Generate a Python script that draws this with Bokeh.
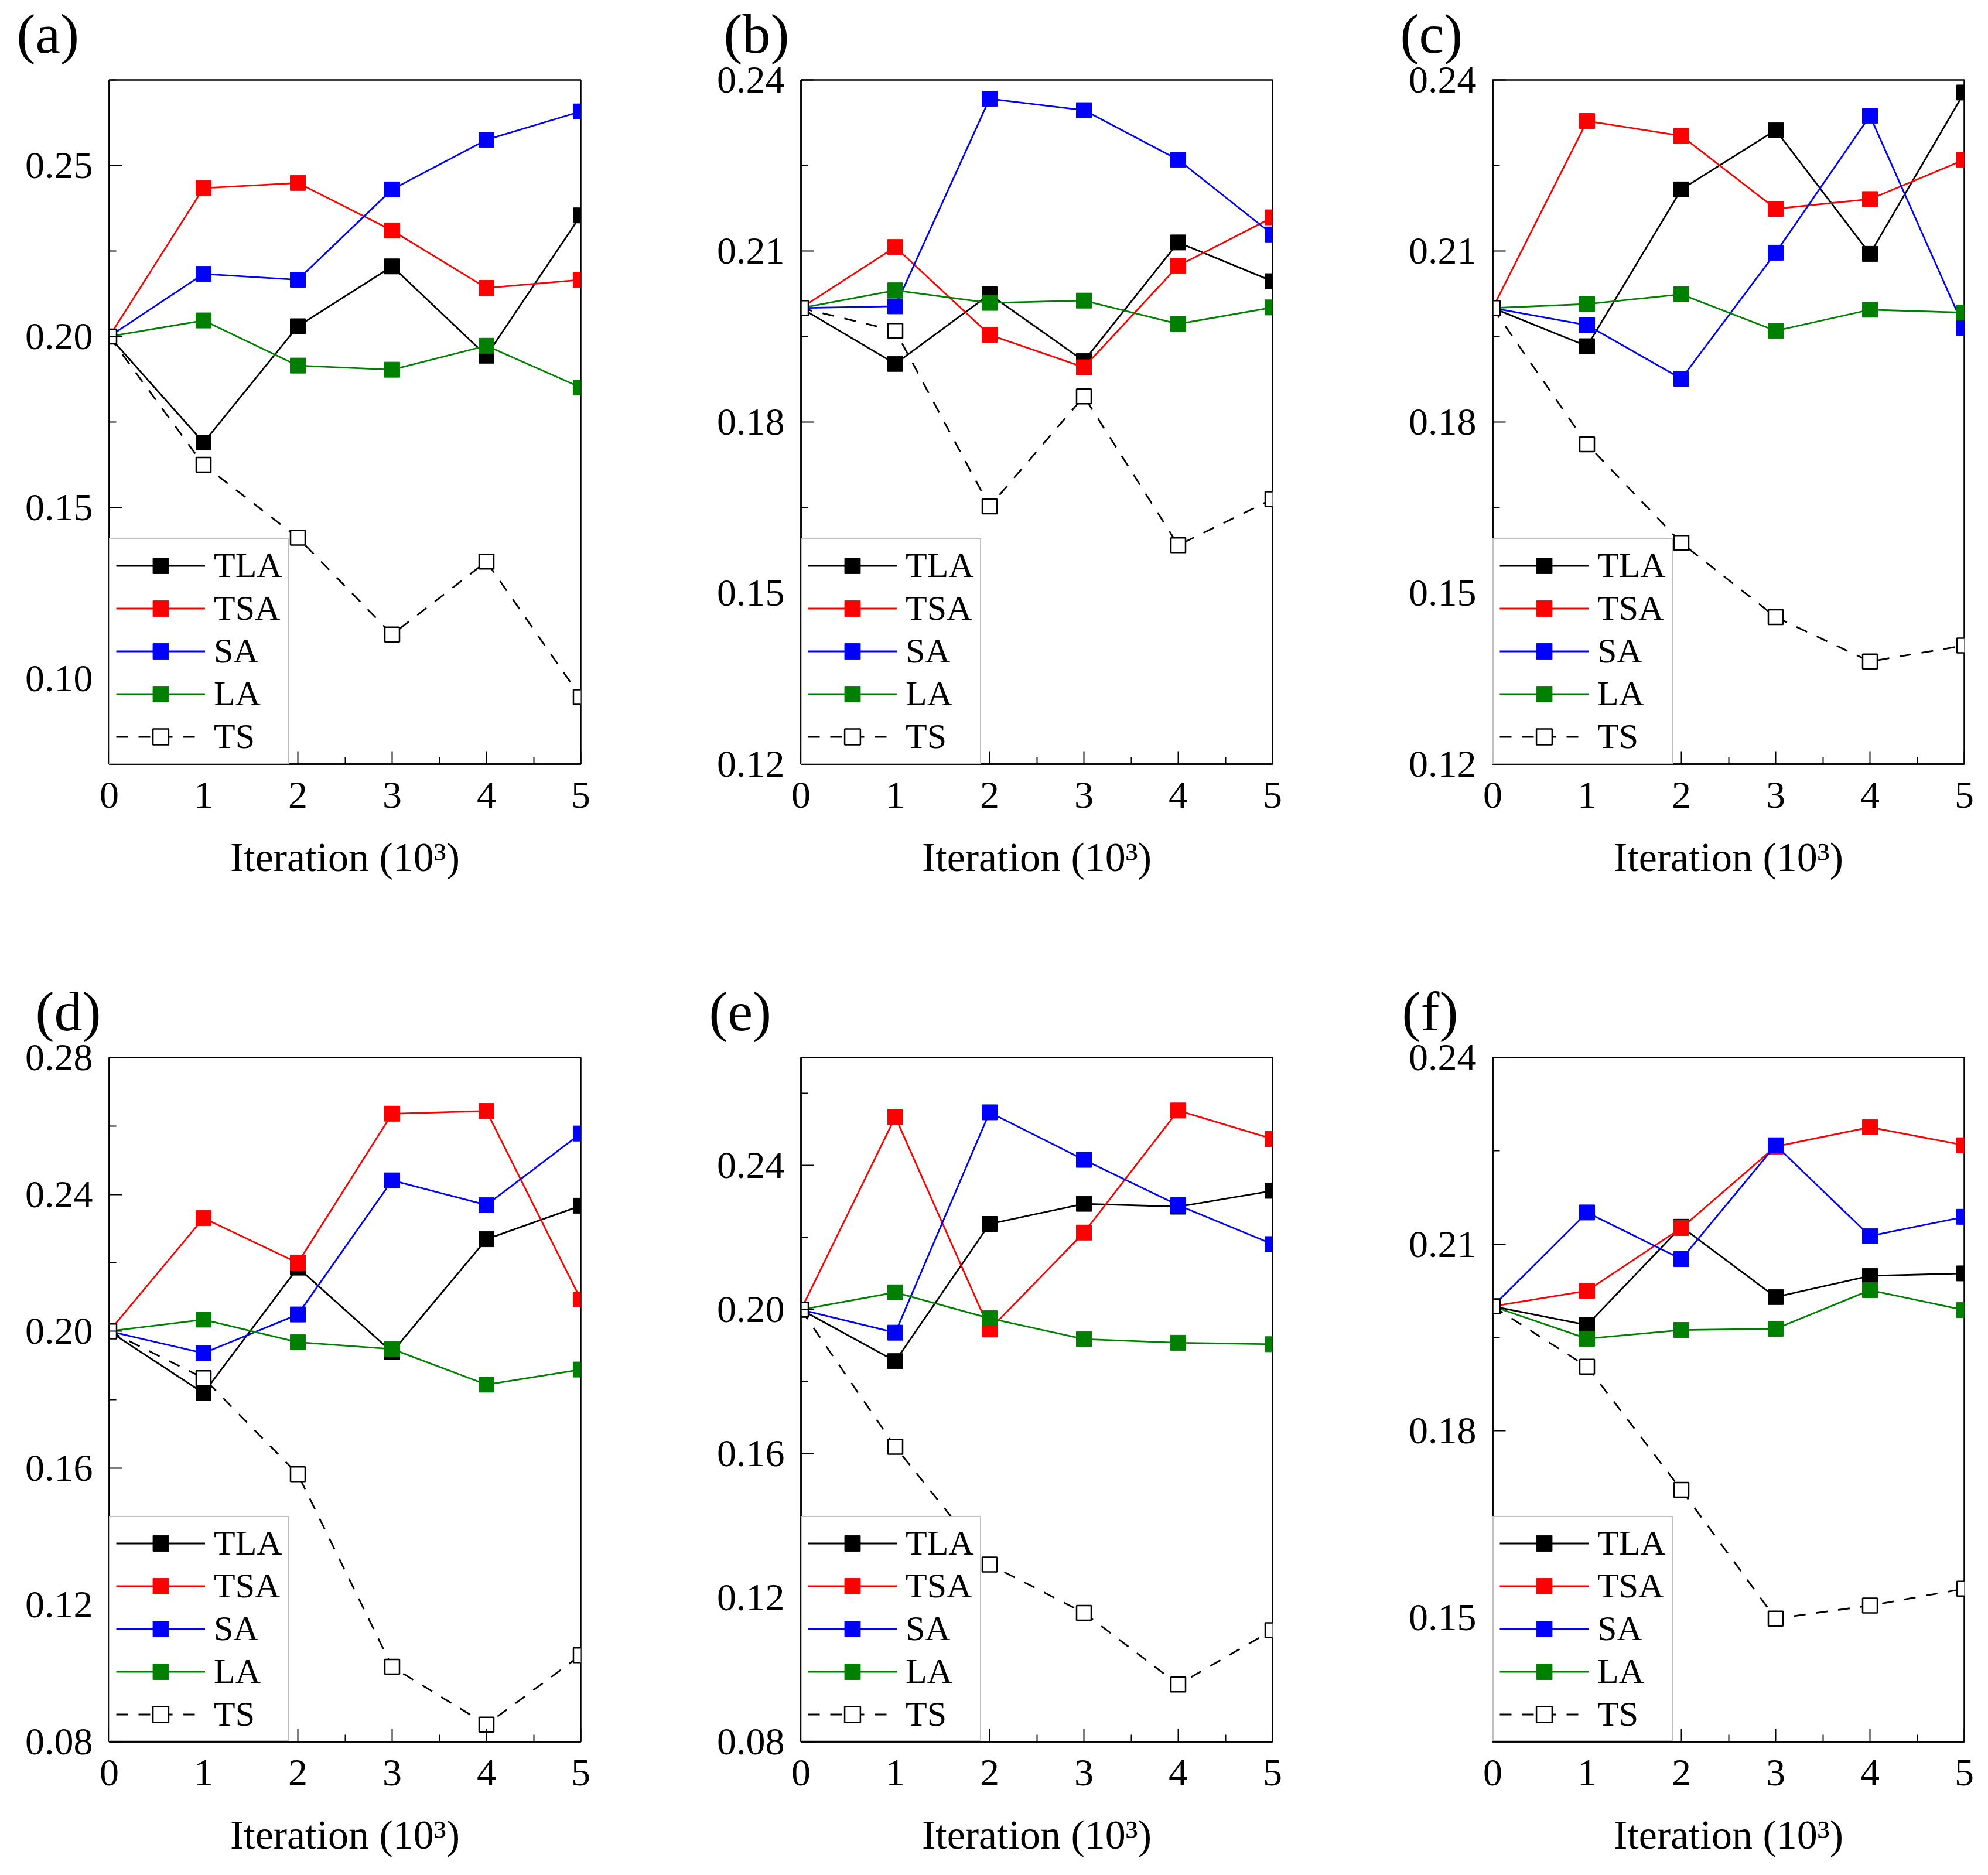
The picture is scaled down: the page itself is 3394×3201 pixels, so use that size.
from bokeh.plotting import figure
from bokeh.layouts import column, row
from bokeh.models import Range1d, FixedTicker, PrintfTickFormatter, Title
from bokeh.embed import file_html
from bokeh.resources import INLINE

iterations = [0, 1, 2, 3, 4, 5]
series_names = ["TLA", "TSA", "SA", "LA", "TS"]
x_ticks = [0, 1, 2, 3, 4, 5]
x_minor = [0.5, 1.5, 2.5, 3.5, 4.5]

# (a)
a_tla = [0.200, 0.169, 0.203, 0.2205, 0.1944, 0.2354]
a_tsa = [0.200, 0.2434, 0.2449, 0.231, 0.2142, 0.2166]
a_sa = [0.200, 0.2183, 0.2166, 0.243, 0.2575, 0.2658]
a_la = [0.200, 0.2047, 0.1915, 0.1903, 0.1973, 0.1851]
a_ts = [0.200, 0.1625, 0.1412, 0.1129, 0.1342, 0.0946]
a_yrange = [0.075, 0.275]
a_yticks = [0.10, 0.15, 0.20, 0.25]
a_yminor = [0.075, 0.125, 0.175, 0.225, 0.275]

# (b)
b_tla = [0.200, 0.1902, 0.2024, 0.1907, 0.2115, 0.2047]
b_tsa = [0.200, 0.2107, 0.1953, 0.1896, 0.2074, 0.2159]
b_sa = [0.200, 0.2003, 0.2367, 0.2347, 0.226, 0.2129]
b_la = [0.200, 0.2031, 0.2009, 0.2013, 0.1972, 0.2001]
b_ts = [0.200, 0.196, 0.1652, 0.1845, 0.1584, 0.1665]
b_yrange = [0.12, 0.24]
b_yticks = [0.12, 0.15, 0.18, 0.21, 0.24]
b_yminor = [0.135, 0.165, 0.195, 0.225]

# (c)
c_tla = [0.200, 0.1933, 0.2208, 0.2312, 0.2095, 0.2378]
c_tsa = [0.200, 0.2328, 0.2302, 0.2174, 0.2191, 0.226]
c_sa = [0.200, 0.197, 0.1876, 0.2097, 0.2337, 0.1965]
c_la = [0.200, 0.2007, 0.2024, 0.196, 0.1997, 0.1992]
c_ts = [0.200, 0.1761, 0.1588, 0.1458, 0.138, 0.1408]
c_yrange = [0.12, 0.24]
c_yticks = [0.12, 0.15, 0.18, 0.21, 0.24]
c_yminor = [0.135, 0.165, 0.195, 0.225]

# (d)
d_tla = [0.200, 0.1819, 0.2186, 0.1939, 0.2269, 0.2367]
d_tsa = [0.200, 0.2331, 0.2200, 0.2636, 0.2644, 0.2093]
d_sa = [0.200, 0.1936, 0.2049, 0.2441, 0.2369, 0.2578]
d_la = [0.200, 0.2034, 0.1968, 0.1948, 0.1844, 0.1888]
d_ts = [0.200, 0.1863, 0.1582, 0.1019, 0.0850, 0.1053]
d_yrange = [0.08, 0.28]
d_yticks = [0.08, 0.12, 0.16, 0.20, 0.24, 0.28]
d_yminor = [0.10, 0.14, 0.18, 0.22, 0.26]

# (e)
e_tla = [0.200, 0.1857, 0.2238, 0.2294, 0.2286, 0.2330]
e_tsa = [0.200, 0.2535, 0.1945, 0.2214, 0.2553, 0.2474]
e_sa = [0.200, 0.1936, 0.2548, 0.2416, 0.2290, 0.2182]
e_la = [0.200, 0.2048, 0.1976, 0.1918, 0.1908, 0.1904]
e_ts = [0.200, 0.1619, 0.1292, 0.1158, 0.0959, 0.1110]
e_yrange = [0.08, 0.27]
e_yticks = [0.08, 0.12, 0.16, 0.20, 0.24]
e_yminor = [0.10, 0.14, 0.18, 0.22, 0.26]

# (f)
f_tla = [0.200, 0.1970, 0.2128, 0.2015, 0.2049, 0.2053]
f_tsa = [0.200, 0.2025, 0.2126, 0.2257, 0.2288, 0.2259]
f_sa = [0.200, 0.2151, 0.2076, 0.2259, 0.2113, 0.2144]
f_la = [0.200, 0.1948, 0.1962, 0.1964, 0.2026, 0.1994]
f_ts = [0.200, 0.1903, 0.1705, 0.1498, 0.1519, 0.1546]
f_yrange = [0.13, 0.24]
f_yticks = [0.15, 0.18, 0.21, 0.24]
f_yminor = [0.135, 0.165, 0.195, 0.225]

panel_tags = ["(a)", "(b)", "(c)", "(d)", "(e)", "(f)"]
tag_offsets = [-158, -132, -158, -126, -157, -155]   # px left of the frame

colors = ["#000000", "#FF0000", "#0000FF", "#008000", "#000000"]
FONT = "Liberation Serif"
FRAME_W = 805
FRAME_H = 1168


def make_panel(idx, series, yrange, yticks, yminor):
    col = idx % 3
    rw = idx // 3
    border_left = 186 if col == 0 else 178
    border_right = 198 if col < 2 else 30
    width = border_left + FRAME_W + border_right
    border_top = 136
    border_bottom = 365 if rw == 0 else 226
    height = border_top + FRAME_H + border_bottom
    p = figure(width=width, height=height,
               x_range=Range1d(0, 5), y_range=Range1d(yrange[0], yrange[1]),
               output_backend="svg", toolbar_location=None,
               min_border_left=border_left, min_border_right=border_right,
               min_border_top=border_top, min_border_bottom=border_bottom)
    p.background_fill_color = "white"
    p.border_fill_color = "white"
    p.xgrid.visible = False
    p.ygrid.visible = False
    p.outline_line_color = "black"
    p.outline_line_width = 2.5
    p.outline_line_alpha = 1

    xa = p.below[0]
    ya = p.left[0]

    tag = Title(text=panel_tags[idx], align="left",
                offset=tag_offsets[idx], standoff=0,
                text_font=FONT, text_font_size="96px",
                text_font_style="normal", text_color="black")
    try:
        tag.padding = dict(left=0, right=0, top=0, bottom=26)
    except Exception:
        pass
    p.add_layout(tag, "above")

    for i, (name, ys) in enumerate(zip(series_names, series)):
        if name == "TS":
            p.line(iterations, ys, line_color=colors[i], line_width=2.8,
                   line_dash="20 18", legend_label=name)
            p.scatter(iterations, ys, marker="square", size=25,
                      fill_color="white", line_color=colors[i], line_width=2.5,
                      legend_label=name)
        else:
            p.line(iterations, ys, line_color=colors[i], line_width=2.8,
                   legend_label=name)
            p.scatter(iterations, ys, marker="square", size=26,
                      fill_color=colors[i], line_color=colors[i], line_width=1,
                      legend_label=name)

    xa.ticker = FixedTicker(ticks=x_ticks, minor_ticks=x_minor)
    ya.ticker = FixedTicker(ticks=yticks, minor_ticks=yminor)
    ya.formatter = PrintfTickFormatter(format="%.2f")
    xa.axis_label = "Iteration (10\u00b3)"
    for ax in (xa, ya):
        ax.axis_line_color = "black"
        ax.axis_line_width = 2.5
        ax.major_tick_in = 22
        ax.major_tick_out = 0
        ax.minor_tick_in = 12
        ax.minor_tick_out = 0
        ax.major_tick_line_width = 2
        ax.minor_tick_line_width = 2
        ax.major_tick_line_color = "black"
        ax.minor_tick_line_color = "black"
        ax.major_label_text_font = FONT
        ax.major_label_text_font_size = "66px"
        ax.major_label_text_color = "black"
    ya.major_label_standoff = 28
    xa.major_label_standoff = 31
    xa.axis_label_text_font = FONT
    xa.axis_label_text_font_size = "70px"
    xa.axis_label_text_font_style = "normal"
    xa.axis_label_text_color = "black"
    xa.axis_label_standoff = 43

    lg = p.legend[0]
    lg.location = "bottom_left"
    lg.margin = 0
    lg.padding = 10
    lg.spacing = 4
    lg.glyph_width = 152
    lg.glyph_height = 67
    lg.label_height = 67
    lg.label_standoff = 15
    lg.label_text_font = FONT
    lg.label_text_font_size = "60px"
    lg.label_text_color = "black"
    lg.border_line_color = "#808080"
    lg.border_line_width = 2
    lg.background_fill_color = "white"
    lg.background_fill_alpha = 1
    return p


pa = make_panel(0, [a_tla, a_tsa, a_sa, a_la, a_ts], a_yrange, a_yticks, a_yminor)
pb = make_panel(1, [b_tla, b_tsa, b_sa, b_la, b_ts], b_yrange, b_yticks, b_yminor)
pc = make_panel(2, [c_tla, c_tsa, c_sa, c_la, c_ts], c_yrange, c_yticks, c_yminor)
pd = make_panel(3, [d_tla, d_tsa, d_sa, d_la, d_ts], d_yrange, d_yticks, d_yminor)
pe = make_panel(4, [e_tla, e_tsa, e_sa, e_la, e_ts], e_yrange, e_yticks, e_yminor)
pf = make_panel(5, [f_tla, f_tsa, f_sa, f_la, f_ts], f_yrange, f_yticks, f_yminor)

layout = column(row(pa, pb, pc), row(pd, pe, pf))

open("out.html", "w").write(file_html(layout, INLINE))
